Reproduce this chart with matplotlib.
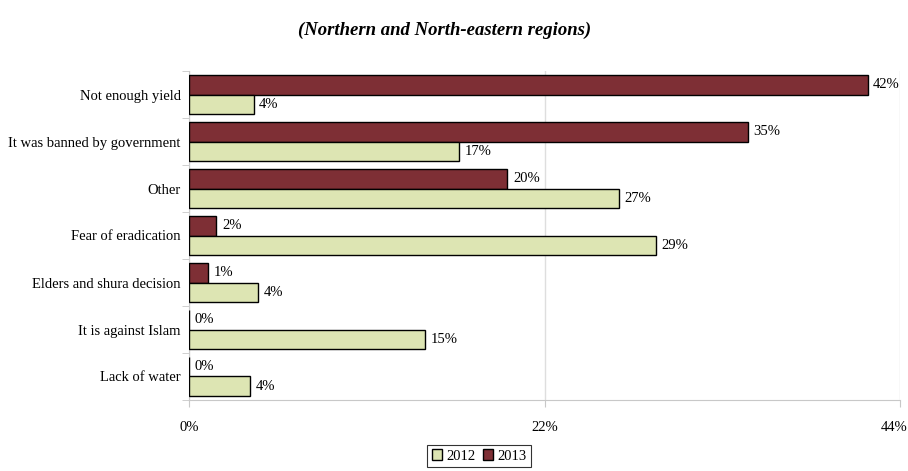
import matplotlib
matplotlib.use("Agg")
import matplotlib.pyplot as plt
import numpy as np
from matplotlib.patches import Patch
from matplotlib.transforms import ScaledTranslation

categories = ["Not enough yield", "It was banned by government", "Other",
              "Fear of eradication", "Elders and shura decision",
              "It is against Islam", "Lack of water"]
values_2012 = [4.0, 16.7, 26.6, 28.9, 4.3, 14.6, 3.8]
values_2013 = [42.0, 34.6, 19.7, 1.7, 1.2, 0.0, 0.0]
xticks = [0, 22, 44]
series_names = ["2012", "2013"]
title = "(Northern and North-eastern regions)"

c2012 = "#DDE5B3"
c2013 = "#7E2F35"

plt.rcParams['font.family'] = ['Liberation Serif', 'DejaVu Serif']

fig = plt.figure(figsize=(9.08, 4.71), dpi=100)
ax = fig.add_axes([189/908, 1-400/471, (900-189)/908, (400-71)/471])

y = np.arange(len(categories))
h = 0.41
ax.barh(y - h/2, values_2013, height=h, color=c2013, edgecolor="black", linewidth=1.0, zorder=3)
ax.barh(y + h/2, values_2012, height=h, color=c2012, edgecolor="black", linewidth=1.0, zorder=3)

for yi, v in zip(y, values_2013):
    ax.annotate(f"{round(v):d}%", (v, yi - h/2), xytext=(4, 0), textcoords="offset points",
                va="center", ha="left", fontsize=10.5)
for yi, v in zip(y, values_2012):
    ax.annotate(f"{round(v):d}%", (v, yi + h/2), xytext=(4, 0), textcoords="offset points",
                va="center", ha="left", fontsize=10.5)

ax.set_xlim(0, 44)
ax.set_ylim(len(categories) - 0.5, -0.5)
ax.set_xticks(xticks)
ax.set_xticklabels([f"{t}%" for t in xticks], fontsize=10.5)
ax.set_yticks(y)
ax.set_yticklabels(categories, fontsize=10.5)
ax.tick_params(axis="y", length=0, pad=6)
ax.set_yticks(np.arange(-0.5, len(categories)), minor=True)
ax.tick_params(axis="y", which="minor", length=5, color="#c8c8c8")
ax.tick_params(axis="x", length=5, color="#c8c8c8", pad=10)
ax.xaxis.grid(True, color="#dedede", linewidth=1, zorder=0)
for s in ["top", "right"]:
    ax.spines[s].set_visible(False)
for s in ["left", "bottom"]:
    ax.spines[s].set_color("#c8c8c8")

fig.canvas.draw()
last = ax.get_xticklabels()[-1]
last.set_transform(last.get_transform() + ScaledTranslation(-6/100, 0, fig.dpi_scale_trans))

fig.text(445/908, 1-30/471, title, ha="center", va="center", fontsize=13.5,
         fontweight="bold", fontstyle="italic")

handles = [Patch(facecolor=c2012, edgecolor="black", linewidth=1),
           Patch(facecolor=c2013, edgecolor="black", linewidth=1)]
leg = fig.legend(handles, series_names, loc="center", bbox_to_anchor=(479/908, 1-456/471),
                 ncol=2, fontsize=10.5, frameon=True, fancybox=False,
                 handlelength=0.7, handleheight=0.7, handletextpad=0.3,
                 columnspacing=0.5, borderpad=0.3, borderaxespad=0)
leg.get_frame().set_edgecolor("black")
leg.get_frame().set_linewidth(0.8)

fig.savefig("out.png", dpi=100)
